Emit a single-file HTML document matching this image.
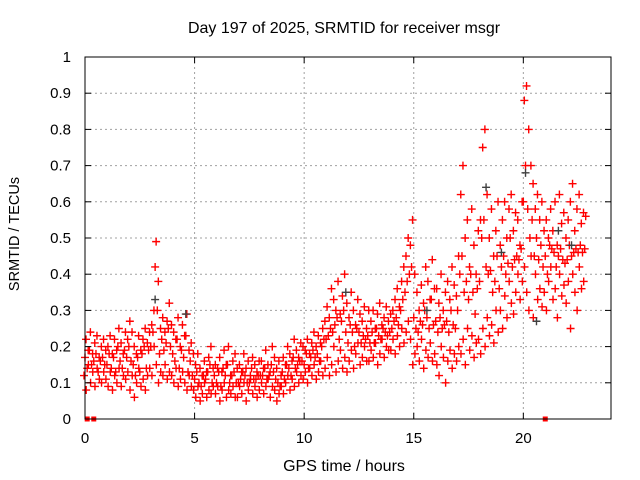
<!DOCTYPE html>
<html><head><meta charset="utf-8"><style>
html,body{margin:0;padding:0;background:#fff;}
svg{display:block;font-family:"Liberation Sans",sans-serif;}
</style></head><body>
<svg id="chart" width="640" height="480" viewBox="0 0 640 480">
<text x="344" y="33" font-size="16" text-anchor="middle">Day 197 of 2025, SRMTID for receiver msgr</text>
<text x="344" y="471" font-size="16" text-anchor="middle">GPS time / hours</text>
<text transform="translate(19,234) rotate(-90)" font-size="14.5" text-anchor="middle">SRMTID / TECUs</text>
<g id="grid"></g><g id="marks"></g><g id="axes"></g>
</svg>
<script>
const xTicks=[0,5,10,15,20];
const yTicks=[0,0.1,0.2,0.3,0.4,0.5,0.6,0.7,0.8,0.9,1];
const yTickLabels=["0","0.1","0.2","0.3","0.4","0.5","0.6","0.7","0.8","0.9","1"];
const loValues=[.12,.08,.15,.10,.13,.09,.14,.11,.10,.13, .11,.09,.13,.08,.12,.10,.14,.09,.12,.11, .13,.08,.12,.06,.10,.14,.09,.11,.08,.12, .14,.12,.20,.15,.10,.13,.12,.15,.11,.13, .12,.10,.14,.09,.11,.13,.10,.08,.12,.09, .08,.06,.09,.05,.07,.10,.06,.08,.07,.09, .07,.09,.05,.08,.10,.06,.08,.07,.09,.06, .06,.09,.07,.10,.05,.08,.11,.07,.09,.06, .08,.10,.07,.09,.11,.06,.09,.08,.05,.07, .09,.07,.10,.12,.08,.11,.09,.13,.10,.12, .11,.13,.10,.14,.12,.15,.11,.13,.16,.12, .14,.17,.12,.15,.20,.13,.16,.19,.14,.17, .13,.16,.19,.14,.18,.21,.15,.17,.20,.16, .16,.19,.17,.21,.15,.18,.22,.17,.20,.19, .19,.22,.18,.23,.20,.25,.21,.24,.27,.22, .15,.18,.20,.16,.22,.14,.19,.17,.21,.16, .18,.15,.12,.20,.17,.10,.16,.19,.14,.18, .16,.20,.18,.22,.15,.25,.19,.23,.17,.21, .22,.18,.25,.20,.28,.23,.26,.21,.30,.24, .30,.25,.34,.28,.38,.32,.29,.35,.40,.33, .38,.42,.35,.30,.45,.28,.40,.33,.36,.31, .35,.30,.38,.42,.33,.36,.28,.40,.34,.37, .32,.38,.25,.40,.35,.30,.42,.36,.38];
const midValues=[.17,.14,.19,.15,.16,.18,.13,.16,.17,.15, .15,.18,.14,.17,.13,.20,.16,.14,.19,.17, .20,.16,.15,.12,.17,.13,.18,.20,.14,.19, .20,.24,.42,.30,.18,.22,.19,.21,.25,.20, .18,.16,.22,.14,.19,.17,.23,.13,.16,.12, .11,.13,.10,.09,.12,.11,.13,.15,.10,.12, .10,.13,.09,.14,.12,.15,.10,.12,.13,.10, .10,.11,.13,.12,.10,.10,.14,.11,.11,.12, .12,.12,.14,.11,.12,.15,.13,.11,.10,.09, .13,.11,.15,.14,.12,.17,.14,.15,.16,.16, .15,.18,.14,.17,.19,.17,.18,.16,.20,.22, .22,.23,.25,.24,.26,.28,.22,.27,.30,.24, .21,.26,.24,.20,.25,.24,.21,.23,.22,.23, .21,.24,.21,.25,.23,.22,.25,.24,.23,.24, .25,.27,.28,.26,.30,.33,.35,.38,.40,.42, .28,.25,.24,.27,.26,.30,.28,.25,.33,.26, .27,.24,.28,.25,.26,.27,.24,.30,.26,.25, .30,.40,.45,.35,.38,.33,.40,.35,.29,.36, .38,.50,.55,.42,.40,.41,.35,.38,.45,.36, .42,.45,.40,.43,.50,.42,.44,.45,.44,.47, .60,.70,.58,.50,.55,.45,.50,.44,.48,.42, .45,.40,.48,.47,.46,.42,.45,.47,.44,.43, .44,.48,.45,.46,.47,.46,.48,.46,.47];
const hiValues=[.22,.19,.24,.18,.21,.23,.17,.20,.22,.19, .20,.23,.18,.22,.19,.25,.21,.18,.24,.22, .27,.24,.20,.18,.23,.19,.22,.25,.21,.24, .26,.30,.49,.38,.25,.28,.24,.27,.32,.26, .24,.22,.28,.20,.26,.23,.29,.19,.21,.18, .15,.18,.14,.12,.16,.13,.17,.20,.14,.15, .14,.17,.13,.19,.15,.20,.12,.16,.18,.14, .15,.13,.18,.14,.16,.12,.17,.15,.13,.16, .16,.14,.19,.15,.13,.20,.17,.14,.16,.12, .17,.15,.20,.18,.16,.22,.19,.17,.21,.20, .19,.22,.18,.21,.24,.20,.23,.21,.25,.27, .31,.28,.36,.33,.30,.38,.29,.34,.40,.32, .28,.35,.30,.26,.33,.29,.27,.31,.25,.30, .27,.30,.25,.29,.32,.26,.28,.31,.27,.29, .30,.33,.36,.31,.38,.42,.45,.50,.48,.55, .40,.35,.30,.37,.32,.42,.38,.33,.44,.36, .36,.32,.40,.30,.35,.38,.33,.42,.37,.34, .45,.62,.70,.50,.55,.42,.58,.48,.40,.52, .55,.75,.80,.62,.50,.58,.45,.52,.60,.48, .55,.60,.50,.58,.62,.52,.57,.55,.48,.60, .88,.92,.80,.70,.65,.58,.62,.55,.60,.52, .55,.50,.58,.52,.60,.48,.62,.54,.57,.50, .55,.60,.65,.52,.58,.62,.54,.57,.56];
const grayTimes=[3.2,4.6,11.9,15.6,18.3,19.0,20.1,20.6,21.6,22.2];
const grayValues=[.33,.29,.35,.30,.64,.46,.68,.27,.52,.48];
const zeroTimes=[0.1,0.4,21.0];
const stepHours=0.1;

const X0=85,X1=611,Y0=419,Y1=57;
const xs=v=>X0+(v/24)*(X1-X0);
const ys=v=>Y0-v*(Y0-Y1);
const NS="http://www.w3.org/2000/svg";
function mk(tag,attrs,parent){const e=document.createElementNS(NS,tag);for(const k in attrs)e.setAttribute(k,attrs[k]);parent.appendChild(e);return e;}
const grid=document.getElementById('grid'),marks=document.getElementById('marks'),axes=document.getElementById('axes');
xTicks.forEach(t=>{
  const g=mk('line',{x1:xs(t),x2:xs(t),y1:Y0,y2:Y1,stroke:'#a0a0a0','stroke-dasharray':'2,3'},grid);
  
  
  const l=mk('text',{x:xs(t),y:Y0+24,'font-size':15,'text-anchor':'middle'},axes);l.textContent=t;
  
  
  mk('line',{x1:xs(t),x2:xs(t),y1:Y0,y2:Y0-6,stroke:'#000'},axes);
  mk('line',{x1:xs(t),x2:xs(t),y1:Y1,y2:Y1+6,stroke:'#000'},axes);
});
yTicks.forEach((t,i)=>{
  const g=mk('line',{x1:X0,x2:X1,y1:ys(t),y2:ys(t),stroke:'#a0a0a0','stroke-dasharray':'2,3'},grid);
  
  
  const l=mk('text',{x:X0-14,y:ys(t)+5,'font-size':15,'text-anchor':'end'},axes);l.textContent=yTickLabels[i];
  
  
  mk('line',{x1:X0,x2:X0+6,y1:ys(t),y2:ys(t),stroke:'#000'},axes);
  mk('line',{x1:X1,x2:X1-6,y1:ys(t),y2:ys(t),stroke:'#000'},axes);
});
const frame=mk('rect',{x:X0,y:Y1,width:X1-X0,height:Y0-Y1,fill:'none',stroke:'#000'},axes);


function plus(t,v,color,off){
  const x=xs(t)+off,y=ys(v);
  const p=mk('path',{d:`M${x-4},${y}h8M${x},${y-4}v8`,stroke:color,'stroke-width':1.4,fill:'none'},marks);
  
  
}
[loValues,midValues,hiValues].forEach((arr,k)=>arr.forEach((v,i)=>plus(i*stepHours,v,'#ff0000',k-1)));
grayTimes.forEach((t,i)=>plus(t,grayValues[i],'#404040',0));
zeroTimes.forEach(t=>{
  const r=mk('rect',{x:xs(t)-2.5,y:Y0-2.5,width:5,height:5,fill:'#ff0000'},marks);
  
  
});
</script>
</body></html>
